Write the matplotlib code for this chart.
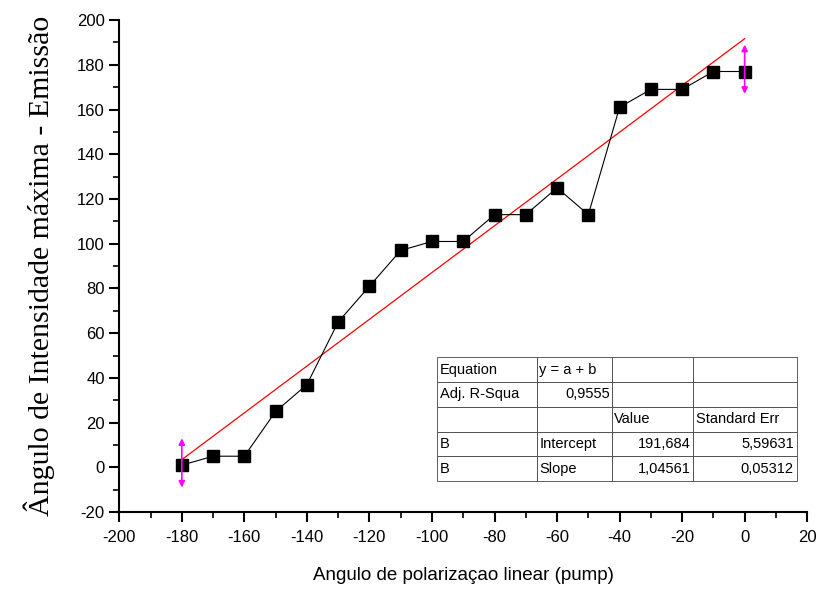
import matplotlib.pyplot as plt
import matplotlib as mpl
import numpy as np

# data
angle = [-180, -170, -160, -150, -140, -130, -120, -110, -100, -90,
         -80, -70, -60, -50, -40, -30, -20, -10, 0]
intensity = [1, 5, 5, 25, 37, 65, 81, 97, 101, 101,
             113, 113, 125, 113, 161, 169, 169, 177, 177]
intercept = 191.684
slope = 1.04561
fit_x = [-180, 0]
table_rows = [
    ['Equation', 'y = a + b', '', ''],
    ['Adj. R-Squa', '0,9555', '', ''],
    ['', '', 'Value', 'Standard Err'],
    ['B', 'Intercept', '191,684', '5,59631'],
    ['B', 'Slope', '1,04561', '0,05312'],
]

mpl.rc('font', family=['Liberation Sans', 'DejaVu Sans'], size=12)
mpl.rc('axes', unicode_minus=False)

fig = plt.figure(figsize=(8.17, 5.90), dpi=100)
ax = fig.add_axes([0.146, 0.132, 0.842, 0.834])

fx = np.array(fit_x)
ax.plot(fx, intercept + slope * fx, color='red', lw=0.9, zorder=2)
ax.plot(angle, intensity, color='black', lw=0.8, marker='s', ms=8.5,
        markeredgecolor='black', markerfacecolor='black', zorder=3)

# magenta data reader handles at the ends
for xe, ye in [(angle[0], intensity[0]), (angle[-1], intensity[-1])]:
    ax.annotate('', xy=(xe, ye + 12), xytext=(xe, ye - 10),
                arrowprops=dict(arrowstyle='<|-|>', color='magenta', lw=1.2,
                                mutation_scale=9, shrinkA=0, shrinkB=0),
                zorder=4)

ax.set_xlim(-200, 20)
ax.set_ylim(-20, 200)
ax.set_xticks(range(-200, 21, 20))
ax.set_yticks(range(-20, 201, 20))
ax.set_xticks(range(-190, 20, 20), minor=True)
ax.set_yticks(range(-10, 200, 20), minor=True)
ax.spines['top'].set_visible(False)
ax.spines['right'].set_visible(False)
ax.spines['left'].set_linewidth(1.5)
ax.spines['bottom'].set_linewidth(1.5)
ax.tick_params(which='major', direction='out', length=7, width=1.5, labelsize=12)
ax.tick_params(axis='x', which='major', pad=6)
ax.tick_params(which='minor', direction='out', length=4, width=1.2)

ax.set_xlabel('Angulo de polarizaçao linear (pump)', fontsize=13.5, labelpad=16)
ax.set_ylabel('Ângulo de Intensidade máxima - Emissão', fontsize=21.5,
              family=['Liberation Serif', 'DejaVu Serif'], labelpad=16)

tbl = ax.table(cellText=table_rows, bbox=[0.462, 0.063, 0.523, 0.252],
               colWidths=[100, 75, 81, 104], cellLoc='left')
tbl.auto_set_font_size(False)
tbl.set_fontsize(10.5)
for (r, c), cell in tbl.get_celld().items():
    cell.set_linewidth(0.6)
    cell.set_edgecolor('#444444')
    cell.set_facecolor('white')
    cell.PAD = 0.03
    if (r >= 3 and c >= 2) or (r == 1 and c == 1):
        cell.set_text_props(ha='right')
        cell._loc = 'right'
tbl.set_zorder(5)

fig.savefig('out.png', dpi=100)
